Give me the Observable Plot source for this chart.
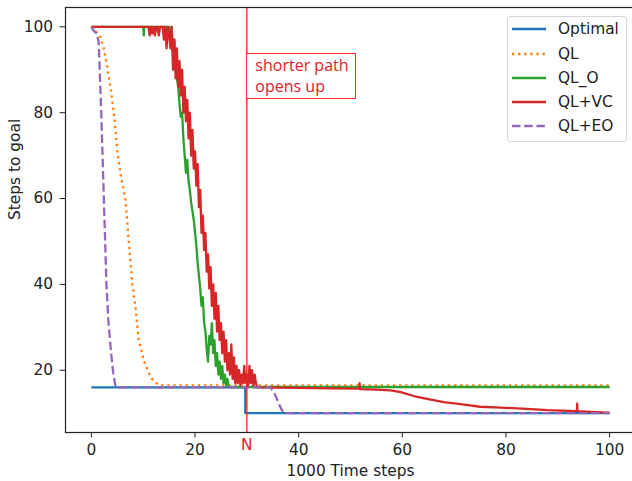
<!DOCTYPE html>
<html><head><meta charset="utf-8">
<script src="https://cdn.jsdelivr.net/npm/d3@7"></script>
<script src="https://cdn.jsdelivr.net/npm/@observablehq/plot@0.6"></script>
<style>
body{margin:0;background:#fff;font-family:"DejaVu Sans",sans-serif;}
#wrap{position:relative;width:632px;height:481px;overflow:hidden;background:#fff;}
#legend{position:absolute;left:507px;top:16px;width:118px;height:124px;border:1px solid #d6d6d6;border-radius:3px;background:rgba(255,255,255,0.85);font-family:"DejaVu Sans",sans-serif;font-size:15.4px;color:#222;}
.row{position:absolute;left:0;height:24px;width:118px;}
.row svg{position:absolute;left:3px;top:0;}
.row span{position:absolute;left:50px;top:2px;line-height:20px;white-space:nowrap;}
#note{position:absolute;border:1.3px solid rgba(255,0,0,0.85);background:#fff;color:#e0202a;font-family:"Open Sans",sans-serif;font-size:16px;line-height:20.5px;padding:1px 6px 2px 8px;white-space:nowrap;box-sizing:border-box;}
</style></head><body><div id="wrap"></div>
<script>
// ---- data ----
const seriesNames = ["Optimal", "QL", "QL_O", "QL+VC", "QL+EO"];
const seriesColors = ["#1f77b4", "#ff7f0e", "#2ca02c", "#d62728", "#9467bd"];
const seriesDash = [null, "2.3,3.8", null, null, "8.5,3.7"];

const xTicks = [0, 20, 40, 60, 80, 100];
const yTicks = [20, 40, 60, 80, 100];
const nTick = 30;
const nLabel = "N";
const xLabel = "1000 Time steps";
const yLabel = "Steps to goal";
const noteText = ["shorter path", "opens up"];
const noteX = 30, noteY = 93.7;

const optimalX = [0, 29.7, 29.7, 100];
const optimalY = [16, 16, 10, 10];

const qlX = [0, 0.8, 1.75, 2.4, 3.05, 3.8, 4.4, 5.0, 5.6, 6.6, 7.2, 7.9, 8.5, 9.15, 10.1, 11.0, 11.7, 12.5, 13.3, 100];
const qlY = [100, 99, 97.6, 95, 90.6, 85, 79, 71.2, 65.8, 59.5, 50.2, 40, 34.7, 27, 22.3, 19.5, 18, 17, 16.5, 16.5];

const qloHeadX = [0, 10.0, 10.1, 10.2, 14.75];
const qloHeadY = [100, 100, 98, 100, 100];
const qloNoiseStart = 15, qloNoiseStep = 0.25;
const qloNoise = [100,98,100,93,97,90,88,86,82,79,80,74,70,66,69,64,62,59,57,55,52,49,45,42,39,35,37,31,29,25,22,28,26,31,24,27,21,24,19,22,18,21,17,19,16.5,18,16.1];
const qloTailX = [100];
const qloTailY = [16.1];

const qlvcHeadX = [0, 10.75];
const qlvcHeadY = [100, 100];
const qlvcNoiseStart = 11, qlvcNoiseStep = 0.25;
const qlvcNoise = [100,98,100,98.5,100,98,100,100,98,100,
  100,100,97,100,95,100,98,95,100,90,
  97,88,95,86,92,84,90,80,86,78,
  83,74,80,70,76,67,71,63,68,58,
  62,52,56,48,52,43,47,39,44,35,
  40,32,38,29,35,27,31,24,29,22,
  27,20,24,19,26,18,23,17,21,17,
  20,16.5,19,17,21,17,19,16.5,21,17,
  20,16.5,19,17,16];
const qlvcTailX = [40, 46, 51.7, 51.75, 51.8, 55, 57.7, 59.7, 62.2, 65, 68, 71.2, 75, 79, 84, 88, 93.7, 93.75, 93.8, 98.3, 100];
const qlvcTailY = [15.9, 15.8, 15.7, 17, 15.6, 15.5, 15.3, 14.9, 14, 13.3, 12.6, 12.1, 11.5, 11.3, 11, 10.7, 10.5, 12.2, 10.5, 10.2, 10.1];

const qleoX = [0, 0.5, 1.0, 1.4, 1.6, 1.9, 2.4, 2.9, 3.3, 3.8, 4.2, 4.6, 4.8, 34.5, 35.2, 35.9, 36.5, 37.1, 100];
const qleoY = [100, 99, 98.5, 96.5, 90, 80, 60, 40, 31, 24, 19.5, 16.5, 16, 16, 15, 13, 11.3, 10, 10];

// ---- build tables ----
function pts(xs, ys){ return xs.map((x,i)=>({x, y: ys[i]})); }
function noisePts(start, step, vals){ return vals.map((v,i)=>({x: start + i*step, y: v})); }
const lines = [
  pts(optimalX, optimalY),
  pts(qlX, qlY),
  [...pts(qloHeadX, qloHeadY), ...noisePts(qloNoiseStart, qloNoiseStep, qloNoise), ...pts(qloTailX, qloTailY)],
  [...pts(qlvcHeadX, qlvcHeadY), ...noisePts(qlvcNoiseStart, qlvcNoiseStep, qlvcNoise), ...pts(qlvcTailX, qlvcTailY)],
  pts(qleoX, qleoY)
];

const lineMarks = lines.map((data, i) => Plot.line(data, {
  x: "x", y: "y", stroke: seriesColors[i], strokeWidth: 2.3,
  strokeDasharray: seriesDash[i] || undefined, strokeLinejoin: "round", strokeLinecap: "butt"
}));

const plot = Plot.plot({
  width: 632, height: 481,
  marginLeft: 65, marginRight: -3, marginTop: 7, marginBottom: 49,
  x: {domain: [-5, 105]},
  y: {domain: [5.5, 104.5]},
  style: {fontFamily: "DejaVu Sans", fontSize: "15.4px", color: "#222", background: "white", overflow: "visible"},
  marks: [
    ...lineMarks,
    Plot.ruleX([nTick], {stroke: "#ff1a1a", strokeWidth: 1.3}),
    Plot.frame({stroke: "#222", strokeWidth: 1.2}),
    Plot.axisX({ticks: xTicks, tickSize: 5.4, tickPadding: 6, label: null, fontSize: 15.4, stroke: "#222"}),
    Plot.axisX({ticks: [nTick], tickFormat: () => nLabel, tickSize: 0, tickPadding: 7, label: null, fontSize: 15.4, fill: "#e0202a"}),
    Plot.axisY({ticks: yTicks, tickSize: 5.4, tickPadding: 7, label: null, fontSize: 15.4, stroke: "#222"}),
    Plot.text([xLabel], {frameAnchor: "bottom", dy: 43, fontSize: 15.4, fill: "#222"}),
    Plot.text([yLabel], {frameAnchor: "left", dx: -50, rotate: -90, fontSize: 15.4, fill: "#222"})
  ]
});

const wrap = document.getElementById("wrap");
wrap.appendChild(plot);

// annotation box positioned via scales
const sx = plot.scale("x"), sy = plot.scale("y");
const note = document.createElement("div");
note.id = "note";
note.innerHTML = noteText.map(t => `<div>${t}</div>`).join("");
note.style.left = (sx.apply(noteX)) + "px";
note.style.top = (sy.apply(noteY)) + "px";
wrap.appendChild(note);

// legend
const legend = document.createElement("div");
legend.id = "legend";
seriesNames.forEach((name, i) => {
  const row = document.createElement("div");
  row.className = "row";
  row.style.top = (0.3 + i * 24.2) + "px";
  const dash = seriesDash[i] ? `stroke-dasharray="${seriesDash[i]}"` : "";
  row.innerHTML = `<svg width="36" height="24"><line x1="1" x2="35" y1="12" y2="12" stroke="${seriesColors[i]}" stroke-width="2.3" ${dash}/></svg><span>${name}</span>`;
  legend.appendChild(row);
});
wrap.appendChild(legend);
</script></body></html>
